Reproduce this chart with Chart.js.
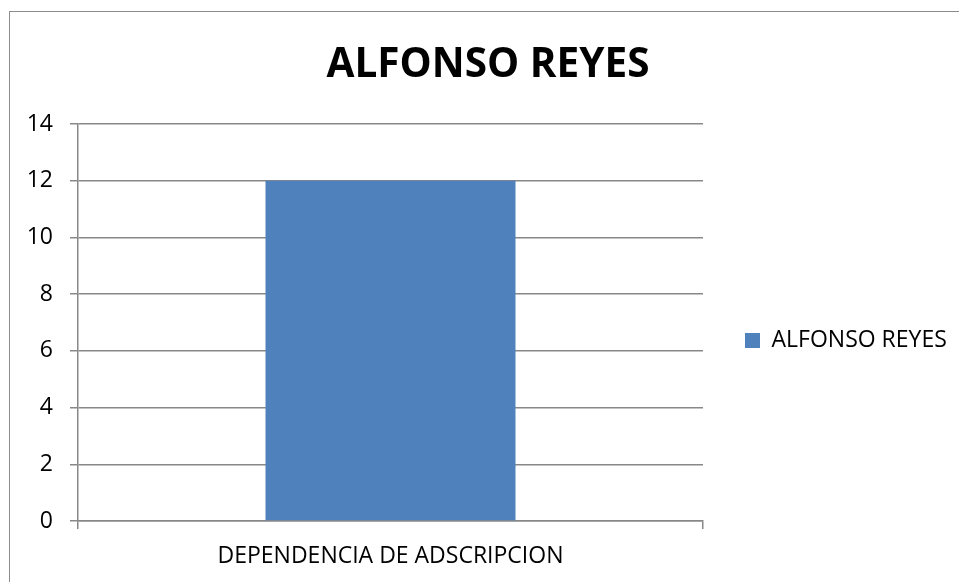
<!DOCTYPE html>
<html>
<head>
<meta charset="utf-8">
<script src="https://cdn.jsdelivr.net/npm/chart.js@4"></script>
<style>
html, body { margin: 0; padding: 0; background: #ffffff; }
#wrap { position: relative; width: 959px; height: 582px; overflow: hidden; }
canvas { display: block; }
</style>
</head>
<body>
<div id="wrap"><canvas id="c" width="959" height="582"></canvas></div>
<script>
const chartTitle = 'ALFONSO REYES';
const categories = ['DEPENDENCIA DE ADSCRIPCION'];
const seriesName = 'ALFONSO REYES';
const seriesValues = [12];
const yTicks = [0, 2, 4, 6, 8, 10, 12, 14];

const GRID = '#888888';
const FONT = 'Open Sans';

const frame = {
  id: 'frame',
  beforeDraw(chart) {
    const ctx = chart.ctx;
    ctx.save();
    ctx.fillStyle = '#ffffff';
    ctx.fillRect(0, 0, chart.width, chart.height);
    ctx.strokeStyle = '#8c8c8c';
    ctx.lineWidth = 1;
    ctx.strokeRect(9.5, 11.5, 1200, 1200);
    ctx.restore();
  }
};

Chart.defaults.color = '#000000';
Chart.defaults.font.family = FONT;

new Chart(document.getElementById('c'), {
  type: 'bar',
  data: {
    labels: categories,
    datasets: [{
      label: seriesName,
      data: seriesValues,
      backgroundColor: '#4f81bd',
      borderWidth: 0,
      barPercentage: 0.4,
      categoryPercentage: 1.0
    }]
  },
  options: {
    responsive: false,
    animation: false,
    devicePixelRatio: 1,
    layout: { padding: { left: 26, right: 9, top: 0, bottom: 0 } },
    plugins: {
      tooltip: { enabled: false },
      title: {
        display: true,
        text: chartTitle,
        color: '#000000',
        font: { family: FONT, size: 40.5, weight: 'bold', lineHeight: 1.2 },
        padding: { top: 41, bottom: 34.4 }
      },
      legend: {
        display: true,
        position: 'right',
        fullSize: false,
        maxWidth: 247,
        title: { display: true, text: ' ', font: { size: 12, lineHeight: 1.2 }, padding: { top: 0, bottom: 21.6 } },
        labels: {
          boxWidth: 15,
          boxHeight: 15,
          padding: 42,
          color: '#000000',
          font: { family: FONT, size: 23 }
        }
      }
    },
    scales: {
      x: {
        offset: true,
        afterFit(scale) { scale.height = 61; },
        grid: {
          display: true,
          offset: true,
          drawOnChartArea: false,
          drawTicks: true,
          tickLength: 8,
          color: GRID,
          lineWidth: 1.5
        },
        border: { display: true, color: GRID, width: 1.5 },
        ticks: { padding: 14, color: '#000000', font: { family: FONT, size: 23 }, maxRotation: 0 }
      },
      y: {
        min: 0,
        max: 14,
        afterFit(scale) { scale.width = 52; },
        afterBuildTicks(scale) { scale.ticks = yTicks.map(v => ({ value: v })); },
        grid: {
          color: GRID,
          lineWidth: 1.5,
          tickLength: 8
        },
        border: { display: true, color: GRID, width: 1.5 },
        ticks: { padding: 17, color: '#000000', font: { family: FONT, size: 23 } }
      }
    }
  },
  plugins: [frame]
});
</script>
</body>
</html>
